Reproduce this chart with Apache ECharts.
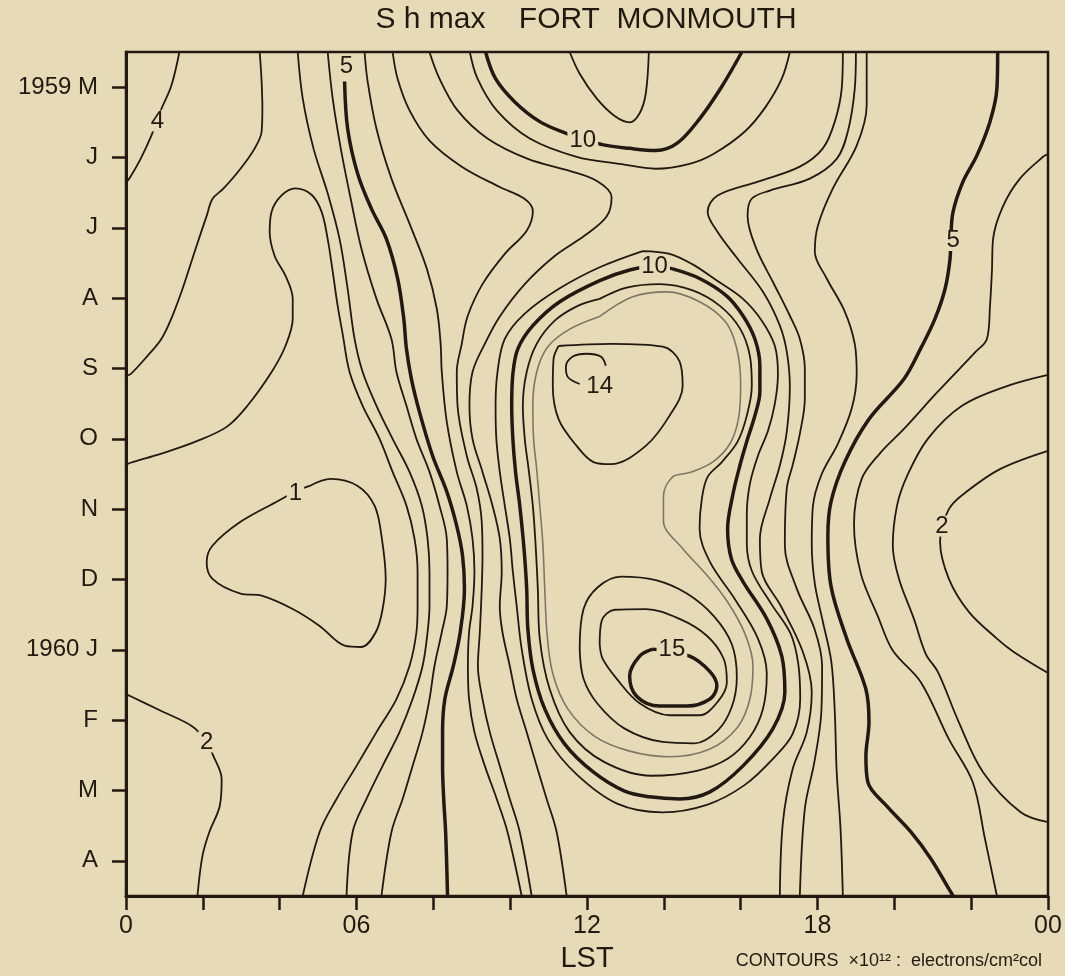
<!DOCTYPE html>
<html>
<head>
<meta charset="utf-8">
<title>Shmax Fort Monmouth</title>
<script src="https://cdn.jsdelivr.net/npm/echarts@6/dist/echarts.min.js"></script>
<style>
  html, body { margin: 0; padding: 0; background: #e6dbb6; }
  #chart { width: 1065px; height: 976px; }
</style>
</head>
<body>
<div id="chart"></div>
<script>
///////////////////////////////////////////////////
// Data: contour lines as [LST hour, month index] (0 = May 1959)
///////////////////////////////////////////////////

var monthLabels = ['1959 M', 'J', 'J', 'A', 'S', 'O', 'N', 'D', '1960 J', 'F', 'M', 'A'];
var hourLabelValues = [0, 6, 12, 18, 24];
var hourLabelTexts = ['0', '06', '12', '18', '00'];

// left side
var c4Left = [[1.39,-0.5],[1.18,-0.02],[0.92,0.31],[0.66,0.69],[0.38,1.02],[0.12,1.27],[0,1.36]];
var c3Left = [[3.48,-0.5],[3.53,-0.08],[3.55,0.31],[3.53,0.63],[3.35,0.87],[2.98,1.16],[2.54,1.44],[2.25,1.59],[2.10,1.83],[1.81,2.30],[1.47,2.87],[1.18,3.29],[0.92,3.58],[0.56,3.82],[0.12,4.08],[0,4.10]];
var c2Left = [[0,5.37],[0.12,5.34],[0.92,5.21],[1.81,5.04],[2.62,4.83],[3.16,4.53],[3.79,4.05],[4.15,3.68],[4.34,3.29],[4.34,3.01],[4.15,2.68],[3.87,2.40],[3.74,2.06],[3.79,1.77],[4.05,1.54],[4.41,1.44],[4.83,1.53],[5.09,1.77],[5.25,2.16],[5.38,2.62],[5.51,3.11],[5.64,3.51],[5.82,4.05],[6.16,4.53],[6.60,5.00],[6.94,5.47],[7.30,5.95],[7.51,6.42],[7.59,6.89],[7.59,7.38],[7.56,7.75],[7.38,8.23],[7.04,8.70],[6.52,9.17],[6.00,9.65],[5.48,10.12],[5.04,10.59],[4.60,11.5]];
var c3Mid = [[4.47,-0.5],[4.60,0.16],[4.88,0.87],[5.25,1.51],[5.56,2.16],[5.77,2.87],[5.95,3.58],[6.16,4.05],[6.52,4.53],[6.94,5.00],[7.38,5.47],[7.70,5.95],[7.85,6.42],[7.90,6.89],[7.90,7.38],[7.85,7.75],[7.72,8.23],[7.46,8.70],[7.12,9.17],[6.68,9.65],[6.26,10.12],[5.90,10.59],[5.74,11.5]];
var c4Mid = [[5.25,-0.5],[5.38,0.16],[5.59,0.87],[5.85,1.59],[6.13,2.30],[6.52,3.01],[6.91,3.58],[7.04,4.05],[7.30,4.53],[7.56,5.00],[7.90,5.47],[8.16,5.95],[8.35,6.42],[8.37,6.89],[8.35,7.38],[8.22,7.75],[8.03,8.23],[7.90,8.70],[7.72,9.17],[7.46,9.65],[7.20,10.12],[6.91,10.59],[6.65,11.5]];
var c5Left = [[5.69,-0.08],[5.77,0.59],[6.03,1.23],[6.39,1.73],[6.78,2.16],[7.07,2.72],[7.23,3.29],[7.30,3.72],[7.43,4.15],[7.64,4.62],[7.98,5.24],[8.35,5.75],[8.61,6.24],[8.76,6.66],[8.81,7.13],[8.70,7.75],[8.52,8.23],[8.30,8.70],[8.24,9.17],[8.24,9.65],[8.27,10.12],[8.32,10.59],[8.37,11.5]];
var c6Left = [[6.21,-0.5],[6.29,-0.08],[6.52,0.59],[6.91,1.30],[7.38,1.94],[7.83,2.58],[8.09,3.15],[8.19,3.65],[8.22,4.05],[8.35,4.76],[8.61,5.47],[8.87,5.95],[9.02,6.42],[9.07,6.89],[9.02,7.38],[8.93,7.75],[8.90,8.23],[8.93,8.70],[9.07,9.17],[9.34,9.65],[9.65,10.12],[9.93,10.59],[10.30,11.5]];
var c7Left = [[6.94,-0.5],[7.07,-0.12],[7.38,0.33],[7.90,0.76],[8.74,1.13],[9.73,1.42],[10.38,1.59],[10.59,1.76],[10.43,2.04],[9.86,2.37],[9.28,2.80],[8.89,3.26],[8.74,3.65],[8.61,4.05],[8.63,4.53],[8.87,5.24],[9.13,5.71],[9.26,6.18],[9.28,6.66],[9.26,7.13],[9.21,7.75],[9.16,8.23],[9.28,8.70],[9.47,9.17],[9.73,9.65],[9.99,10.12],[10.25,10.59],[10.56,11.5]];
var c8Left = [[7.90,-0.5],[8.16,-0.12],[8.63,0.33],[9.41,0.73],[10.46,1.02],[11.55,1.19],[12.28,1.34],[12.64,1.56],[12.51,1.84],[11.94,2.11],[11.16,2.40],[10.38,2.80],[9.73,3.26],[9.34,3.65],[9.02,4.05],[8.94,4.53],[9.02,5.00],[9.28,5.47],[9.54,5.95],[9.73,6.42],[9.78,6.89],[9.73,7.38],[9.80,7.75],[9.99,8.23],[10.17,8.70],[10.43,9.17],[10.69,9.65],[10.95,10.12],[11.21,10.59],[11.47,11.5]];
var c1Loop = [[4.78,5.67],[5.33,5.57],[6.03,5.67],[6.47,5.95],[6.65,6.38],[6.76,6.99],[6.68,7.42],[6.50,7.75],[6.13,7.96],[5.69,7.94],[5.04,7.66],[4.34,7.42],[3.53,7.23],[2.98,7.20],[2.25,6.99],[2.10,6.75],[2.25,6.52],[2.98,6.18],[3.97,5.88],[4.41,5.75],[4.78,5.67]];
var c2BottomLeft = [[0,8.63],[0.12,8.66],[0.92,8.87],[1.73,9.09],[2.10,9.31],[2.25,9.48],[2.49,9.84],[2.44,10.22],[2.17,10.59],[1.99,10.93],[1.86,11.5]];

// top centre
var c9Top = [[8.95,-0.5],[9.15,-0.12],[9.65,0.33],[10.51,0.73],[11.73,0.99],[12.85,1.09],[13.79,1.16],[14.67,1.09],[15.29,0.95],[16.11,0.63],[16.65,0.28],[17.07,-0.12],[17.28,-0.5]];
var c10Top = [[9.36,-0.5],[9.62,-0.12],[10.12,0.21],[10.77,0.49],[11.47,0.66],[11.89,0.73],[12.43,0.82],[13.11,0.87],[13.79,0.90],[14.34,0.80],[14.93,0.45],[15.51,-0.01],[16.03,-0.5]];
var c11Top = [[11.55,-0.5],[11.81,-0.19],[12.25,0.16],[12.72,0.41],[13.11,0.50],[13.37,0.37],[13.53,0.09],[13.61,-0.5]];

// central mass
var c9Loop = [[13.45,2.33],[14.15,2.37],[14.75,2.52],[15.38,2.75],[16.06,3.01],[16.55,3.32],[16.89,3.68],[16.97,4.08],[16.89,4.50],[16.71,4.89],[16.45,5.24],[16.24,5.64],[16.16,6.07],[16.16,6.49],[16.30,6.89],[16.80,7.35],[17.30,7.77],[17.50,8.20],[17.55,8.70],[17.35,9.20],[16.84,9.55],[16.11,9.92],[15.14,10.20],[13.97,10.31],[12.80,10.19],[11.73,9.77],[10.98,9.27],[10.56,8.70],[10.30,7.99],[10.17,7.38],[10.07,6.89],[9.99,6.42],[9.86,5.95],[9.73,5.47],[9.64,5.00],[9.62,4.53],[9.67,4.05],[9.86,3.58],[10.38,3.22],[11.29,2.86],[12.33,2.56],[13.45,2.33]];
var c10Loop = [[14.21,2.58],[14.93,2.72],[15.64,2.97],[16.06,3.25],[16.37,3.58],[16.50,3.96],[16.50,4.33],[16.37,4.67],[16.18,5.00],[15.98,5.38],[15.79,5.81],[15.66,6.28],[15.76,6.71],[16.06,7.03],[16.68,7.56],[17.07,8.09],[17.15,8.60],[16.84,9.12],[16.06,9.65],[15.20,10.02],[14.41,10.12],[13.63,10.09],[12.98,10.01],[12.17,9.74],[11.42,9.34],[10.90,8.84],[10.59,8.27],[10.46,7.70],[10.43,7.13],[10.36,6.56],[10.25,5.95],[10.14,5.47],[10.07,5.00],[10.04,4.53],[10.07,4.08],[10.20,3.72],[10.59,3.39],[11.29,3.05],[12.33,2.75],[13.11,2.60],[13.71,2.55],[14.21,2.58]];
var c11Loop = [[12.33,3.01],[13.03,2.85],[13.89,2.80],[14.75,2.89],[15.46,3.11],[15.98,3.43],[16.24,3.82],[16.29,4.25],[16.16,4.67],[15.92,5.04],[15.51,5.33],[15.14,5.54],[14.99,5.85],[14.93,6.28],[15.20,6.75],[15.85,7.28],[16.45,7.84],[16.68,8.34],[16.58,8.84],[16.24,9.24],[15.66,9.55],[14.86,9.72],[13.68,9.79],[12.43,9.59],[11.55,9.17],[11.03,8.56],[10.77,7.84],[10.72,7.13],[10.66,6.49],[10.59,5.95],[10.48,5.43],[10.38,5.00],[10.33,4.53],[10.43,4.05],[10.69,3.65],[11.16,3.32],[11.76,3.11],[12.33,3.01]];
var c12Loop = [[12.33,3.26],[13.19,2.98],[14.08,2.91],[14.93,3.05],[15.61,3.34],[15.90,3.72],[16.00,4.22],[15.95,4.69],[15.72,5.07],[15.27,5.33],[14.67,5.48],[14.23,5.54],[13.99,5.82],[13.99,6.17],[14.49,6.56],[15.14,6.95],[15.66,7.32],[16.11,7.77],[16.32,8.23],[16.24,8.70],[15.92,9.10],[15.20,9.41],[14.15,9.52],[13.11,9.44],[12.20,9.23],[11.50,8.84],[11.11,8.34],[10.96,7.77],[10.90,7.13],[10.85,6.49],[10.77,5.95],[10.69,5.43],[10.61,5.00],[10.59,4.53],[10.69,4.05],[10.98,3.69],[11.55,3.44],[12.33,3.26]];
var c13Upper = [[11.26,3.68],[12.62,3.65],[13.97,3.69],[14.41,3.90],[14.49,4.25],[14.15,4.67],[13.53,5.10],[12.62,5.36],[12.17,5.33],[11.73,5.10],[11.26,4.72],[11.11,4.25],[11.13,3.86],[11.26,3.68]];
var c14Hook = [[12.49,3.96],[12.36,3.83],[11.99,3.79],[11.63,3.83],[11.45,3.98],[11.50,4.12],[11.81,4.22]];
var c13Lower = [[11.81,7.99],[11.91,7.42],[12.28,7.11],[12.88,6.96],[13.79,7.01],[14.60,7.20],[15.30,7.52],[15.77,7.92],[15.90,8.39],[15.77,8.81],[15.40,9.15],[14.80,9.33],[13.97,9.31],[12.98,9.12],[12.28,8.77],[11.91,8.41],[11.81,7.99]];
var c14Lower = [[12.33,7.92],[12.38,7.59],[12.72,7.43],[13.53,7.42],[14.41,7.56],[15.12,7.80],[15.56,8.13],[15.64,8.46],[15.40,8.74],[14.93,8.93],[14.15,8.93],[13.37,8.76],[12.77,8.41],[12.41,8.13],[12.33,7.92]];
var c15Loop = [[13.71,7.99],[14.67,8.09],[15.20,8.31],[15.38,8.51],[15.20,8.70],[14.60,8.80],[13.89,8.80],[13.29,8.66],[13.11,8.37],[13.37,8.09],[13.71,7.99]];

// right side
var c8Right = [[18.66,-0.5],[18.63,0.02],[18.45,0.49],[18.14,0.87],[17.54,1.13],[16.47,1.34],[15.40,1.54],[15.14,1.77],[15.40,2.06],[15.92,2.44],[16.58,2.91],[17.02,3.39],[17.20,3.76],[17.28,4.25],[17.20,4.90],[17.02,5.38],[16.76,5.85],[16.50,6.42],[16.55,6.89],[17.05,7.38],[17.62,8.03],[17.85,8.60],[17.72,9.17],[17.35,9.70],[17.10,10.45],[17.02,11.5]];
var c7Right = [[19.00,-0.5],[18.97,0.02],[18.79,0.63],[18.50,1.02],[17.80,1.30],[16.76,1.47],[16.28,1.59],[16.18,1.83],[16.41,2.30],[16.84,2.77],[17.28,3.25],[17.54,3.58],[17.67,4.00],[17.67,4.43],[17.54,4.93],[17.36,5.36],[17.20,5.71],[17.15,6.52],[17.46,7.13],[17.92,7.70],[18.12,8.23],[18.10,8.88],[17.92,9.59],[17.67,10.26],[17.54,11.5]];
var c6Right = [[19.28,-0.5],[19.28,0.26],[19.02,0.83],[18.40,1.44],[18.01,1.97],[17.93,2.34],[18.24,2.72],[18.71,3.19],[18.97,3.65],[19.02,4.08],[18.89,4.57],[18.53,5.07],[18.11,5.50],[17.88,5.96],[17.85,6.49],[17.93,7.06],[18.14,7.60],[18.36,8.17],[18.45,8.88],[18.50,9.74],[18.60,10.55],[18.66,11.5]];
var c5Right = [[22.69,-0.5],[22.67,0.02],[22.49,0.49],[22.15,0.97],[21.79,1.34],[21.53,1.77],[21.47,2.15],[21.45,2.44],[21.32,2.87],[21.06,3.29],[20.70,3.70],[20.25,4.15],[19.34,4.72],[18.71,5.33],[18.35,5.90],[18.27,6.38],[18.35,7.09],[18.76,7.84],[19.26,8.56],[19.34,9.03],[19.26,9.51],[19.31,9.88],[19.80,10.22],[20.43,10.59],[20.95,10.97],[21.42,11.40],[21.53,11.5]];
var c4Right = [[24,0.95],[23.87,0.99],[23.27,1.30],[22.83,1.69],[22.57,2.16],[22.54,2.62],[22.49,3.11],[22.41,3.58],[22.12,3.76],[21.13,4.33],[20.25,4.86],[19.62,5.21],[19.15,5.57],[18.95,6.21],[19.13,6.92],[19.57,7.52],[19.96,8.01],[20.69,8.46],[21.42,9.27],[22.04,9.88],[22.36,10.69],[22.67,11.5]];
var c3Right = [[24,4.09],[22.93,4.25],[21.76,4.53],[20.87,5.00],[20.33,5.53],[20.07,5.95],[19.96,6.52],[20.12,6.99],[20.51,7.56],[20.82,8.06],[21.13,8.31],[21.68,9.03],[22.31,9.74],[23.29,10.31],[24,10.45]];
var c2Right = [[24,5.17],[22.75,5.43],[21.86,5.76],[21.42,6.00],[21.19,6.46],[21.42,6.99],[21.94,7.46],[22.67,7.84],[23.11,8.03],[24,8.33]];

// contour value labels: [hour, month index, text]
var contourLabels = [
  [0.82, 0.48, '4'], [5.74, -0.29, '5'], [11.89, 0.76, '10'], [13.76, 2.55, '10'],
  [12.33, 4.26, '14'], [4.41, 5.78, '1'], [21.53, 2.18, '5'], [21.24, 6.24, '2'],
  [14.21, 7.99, '15'], [2.10, 9.31, '2']
];

///////////////////////////////////////////////////
// Styling
///////////////////////////////////////////////////
var BG = '#e6dbb6';
var INK = '#221a12';
var GREY = '#7f7765';
var FONT = '"Liberation Sans", "DejaVu Sans", sans-serif';

var thin = [c4Left, c3Left, c2Left, c3Mid, c4Mid, c6Left, c7Left, c8Left, c1Loop, c2BottomLeft,
  c9Top, c11Top, c9Loop, c11Loop, c13Upper, c14Hook, c13Lower, c14Lower,
  c8Right, c7Right, c6Right, c4Right, c3Right, c2Right];
var bold = [c5Left, c10Top, c10Loop, c15Loop, c5Right];
var grey = [c12Loop];

function lineSeries(data, color, width) {
  return {
    type: 'line',
    data: data,
    showSymbol: false,
    symbol: 'none',
    smooth: 0.35,
    silent: true,
    animation: false,
    lineStyle: { color: color, width: width },
    z: 2
  };
}

var series = [];
thin.forEach(function (d) { series.push(lineSeries(d, INK, 1.8)); });
grey.forEach(function (d) { series.push(lineSeries(d, GREY, 1.6)); });
bold.forEach(function (d) { series.push(lineSeries(d, INK, 3.5)); });
series.push({
  type: 'scatter',
  data: contourLabels,
  symbolSize: 1,
  silent: true,
  itemStyle: { color: BG, opacity: 1 },
  label: {
    show: true,
    position: 'inside',
    formatter: function (p) { return p.data[2]; },
    fontSize: 24,
    fontFamily: FONT,
    color: INK,
    opacity: 1,
    backgroundColor: BG,
    padding: [0, 2],
    lineHeight: 21
  },
  z: 10
});

///////////////////////////////////////////////////
// Chart
///////////////////////////////////////////////////
var chart = echarts.init(document.getElementById('chart'));
chart.setOption({
  backgroundColor: BG,
  animation: false,
  grid: {
    left: 126, top: 52, width: 922, height: 844,
    containLabel: false, outerBoundsMode: 'none',
    show: true, borderColor: INK, borderWidth: 2.5, backgroundColor: 'transparent'
  },
  xAxis: {
    type: 'value', min: 0, max: 24, interval: 2,
    axisLine: { show: true, onZero: false, lineStyle: { color: INK, width: 3 } },
    axisTick: { show: true, inside: false, length: 14, lineStyle: { color: INK, width: 2.5 } },
    axisLabel: {
      color: INK, fontSize: 25, fontFamily: FONT, margin: 18,
      formatter: function (v) {
        var i = hourLabelValues.indexOf(v);
        return i >= 0 ? hourLabelTexts[i] : '';
      }
    },
    splitLine: { show: false },
    name: 'LST', nameLocation: 'middle', nameGap: 48,
    nameTextStyle: { color: INK, fontSize: 29, fontFamily: FONT }
  },
  yAxis: [
    { type: 'value', min: -0.5, max: 11.5, inverse: true, show: false },
    {
      type: 'category', data: monthLabels, inverse: true, position: 'left', offset: 0,
      boundaryGap: true,
      axisLine: { show: true, onZero: false, lineStyle: { color: INK, width: 3 } },
      axisTick: { show: true, alignWithLabel: true, length: 14, lineStyle: { color: INK, width: 2.5 } },
      axisLabel: { color: INK, fontSize: 24, fontFamily: FONT, margin: 28 },
      splitLine: { show: false }
    }
  ],
  graphic: [
    {
      type: 'text', x: 586, y: 5,
      style: { text: 'S h max    FORT  MONMOUTH', fill: INK, font: '30px ' + FONT, textAlign: 'center' }
    },
    {
      type: 'text', x: 1042, y: 952,
      style: { text: 'CONTOURS  \u00d710\u00b9\u00b2 :  electrons/cm\u00b2col', fill: INK, font: '18px ' + FONT, textAlign: 'right' }
    }
  ],
  series: series
});
</script>
</body>
</html>
